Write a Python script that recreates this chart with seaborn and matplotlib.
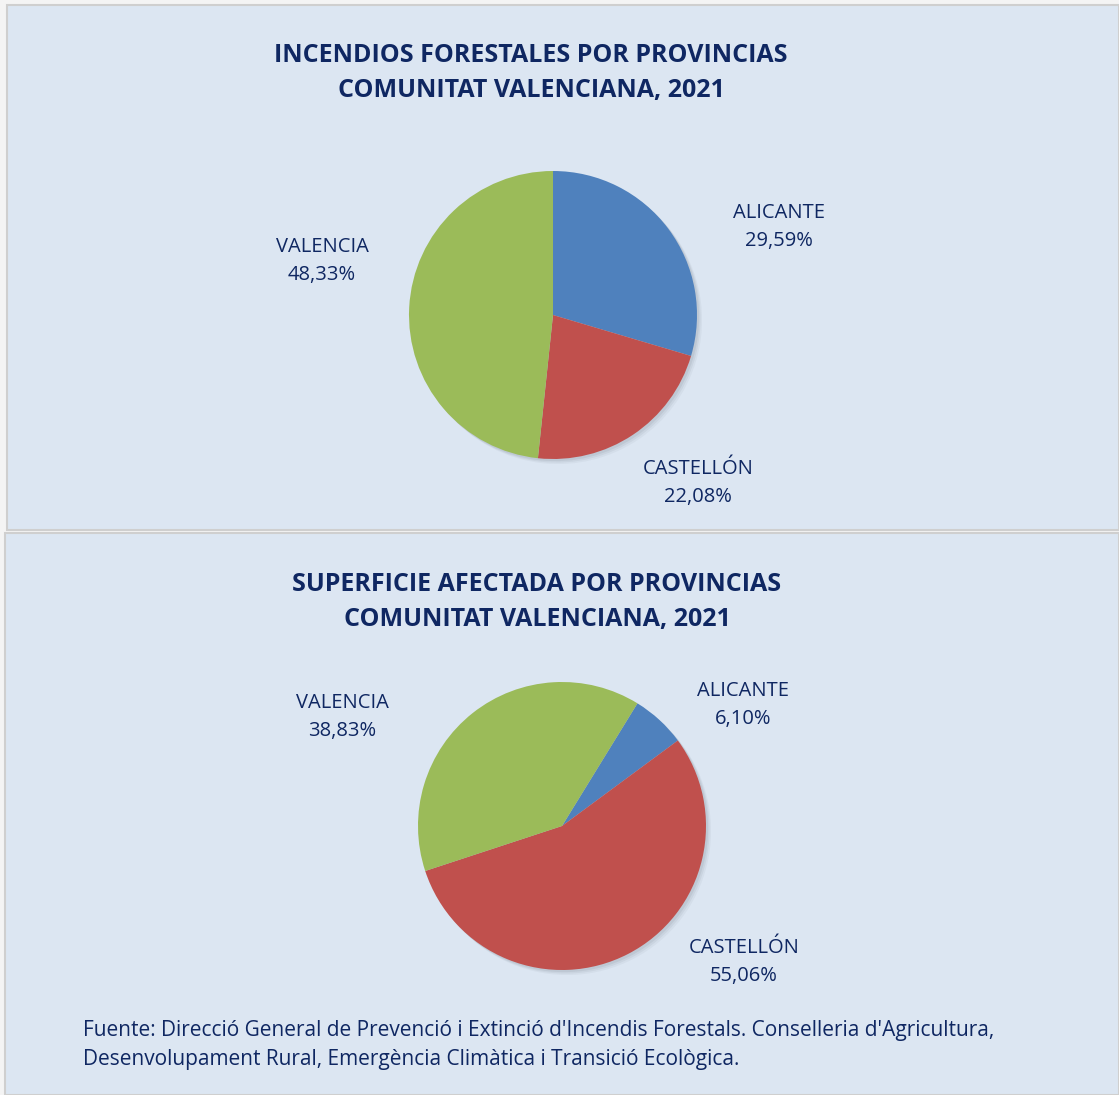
import matplotlib.pyplot as plt
import seaborn as sns
from matplotlib.patches import Rectangle

# Data
provincias = ['ALICANTE', 'CASTELLÓN', 'VALENCIA']
incendios = [29.59, 22.08, 48.33]
superficie = [6.10, 55.06, 38.83]
colores = ['#4F81BD', '#C0504D', '#9BBB59']

titulo1 = 'INCENDIOS FORESTALES POR PROVINCIAS\nCOMUNITAT VALENCIANA, 2021'
titulo2 = 'SUPERFICIE AFECTADA POR PROVINCIAS\nCOMUNITAT VALENCIANA, 2021'
fuente = ("Fuente: Direcció General de Prevenció i Extinció d'Incendis Forestals. Conselleria d'Agricultura,\n"
          "Desenvolupament Rural, Emergència Climàtica i Transició Ecològica.")

sns.set_style('white')
plt.rcParams['font.family'] = ['Open Sans', 'DejaVu Sans']

W, H = 1119, 1095
navy = '#0F2762'
fig = plt.figure(figsize=(W / 100, H / 100), dpi=100)
fig.patch.set_facecolor('#F4F4F4')


def px(x, y):
    return x / W, 1 - y / H


# Panels
for (x0, y0, x1, y1) in [(7, 5, 1119, 530), (5, 533, 1119, 1095)]:
    fig.patches.append(Rectangle(px(x0, y1), (x1 - x0) / W, (y1 - y0) / H,
                                 transform=fig.transFigure, facecolor='#DCE6F2',
                                 edgecolor='#CFCFCF', linewidth=1.5, zorder=-5))


def draw_pie(values, cx, cy, r, start):
    ax = fig.add_axes([(cx - r) / W, 1 - (cy + r) / H, 2 * r / W, 2 * r / H], zorder=2)
    ax.patch.set_visible(False)
    # soft drop shadow: a few stacked faint offset copies
    for off, a in [(0.035, 0.06), (0.025, 0.08), (0.015, 0.1)]:
        ax.pie(values, colors=['#5A6470'] * 3, startangle=start, counterclock=False,
               center=(off, -off), wedgeprops={'linewidth': 0, 'alpha': a})
    ax.pie(values, colors=colores, startangle=start, counterclock=False,
           wedgeprops={'linewidth': 0})
    ax.set_xlim(-1, 1)
    ax.set_ylim(-1, 1)
    ax.set_aspect('equal')
    ax.axis('off')
    for p in ax.patches:
        p.set_clip_on(False)
    return ax


draw_pie(incendios, 553, 315, 144, 90)
draw_pie(superficie, 562, 826, 144, 58.4)


def label(name, val, x, y):
    fx, fy = px(x, y)
    fig.text(fx, fy, f"{name}\n{val:.2f}%".replace('.', ','), ha='center', va='center',
             color=navy, fontsize=14.5, linespacing=1.55)


# Top chart labels
label(provincias[0], incendios[0], 779, 227)
label(provincias[1], incendios[1], 698, 483)
label(provincias[2], incendios[2], 322, 261)
# Bottom chart labels
label(provincias[0], superficie[0], 743, 705)
label(provincias[1], superficie[1], 744, 962)
label(provincias[2], superficie[2], 342, 717)

tx, ty = px(531, 73)
fig.text(tx, ty, titulo1, ha='center', va='center', color=navy, fontsize=18,
         fontweight='bold', linespacing=1.5)
tx, ty = px(537, 602)
fig.text(tx, ty, titulo2, ha='center', va='center', color=navy, fontsize=18,
         fontweight='bold', linespacing=1.5)

fx, fy = px(83, 1045)
fig.text(fx, fy, fuente, ha='left', va='center', color=navy, fontsize=15, linespacing=1.45)

fig.savefig('out.png', dpi=100, facecolor=fig.get_facecolor())
